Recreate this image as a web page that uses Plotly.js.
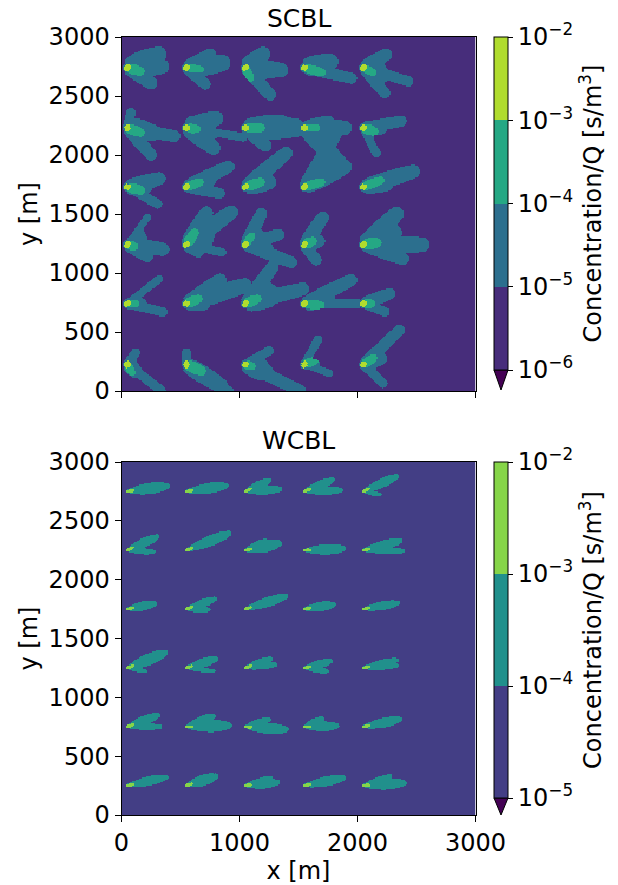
<!DOCTYPE html>
<html><head><meta charset="utf-8">
<script src="https://cdn.plot.ly/plotly-3.0.1.min.js"></script>
<style>html,body{margin:0;padding:0;background:#fff}#chart{width:618px;height:885px}</style>
</head><body><div id="chart"></div>
<script>
// ---------------- data ----------------
const sourceX = [50, 550, 1050, 1550, 2050];
const scblSourceY = [2740, 2230, 1730, 1240, 740, 225];
const wcblSourceY = [2750, 2250, 1750, 1250, 750, 250];
const xTicks = [0, 1000, 2000, 3000];
const yTicks = [0, 500, 1000, 1500, 2000, 2500, 3000];
const scblLevels = [-6, -5, -4, -3, -2];   // log10 of Concentration/Q
const wcblLevels = [-5, -4, -3, -2];
const scblLevelLabels = ['10<sup>−6</sup>', '10<sup>−5</sup>', '10<sup>−4</sup>', '10<sup>−3</sup>', '10<sup>−2</sup>'];
const wcblLevelLabels = ['10<sup>−5</sup>', '10<sup>−4</sup>', '10<sup>−3</sup>', '10<sup>−2</sup>'];
const scblColors = ['#472d7b', '#2c6f8e', '#25a884', '#b0dc2e'];
const wcblColors = ['#433e85', '#21908c', '#86d549'];
const underColor = '#440154';

// SCBL plume extents (>=1e-5) per source, row by row from top: lobes [dx, dy, halfWidth] in m
const scblOuter = [
  [[260,110,90],[290,10,80],[200,-130,60]],
  [[300,40,90],[200,110,60],[160,-140,50]],
  [[150,115,75],[300,-20,75],[210,-230,55]],
  [[220,50,85],[400,-90,50]],
  [[190,110,60],[380,-115,45],[180,-215,50]],
  [[30,130,40],[200,-40,95],[400,-70,55],[200,-230,55]],
  [[170,10,100],[250,80,80],[480,-80,35],[230,-170,70]],
  [[430,0,100],[300,50,80],[170,-150,60]],
  [[340,0,75],[320,-320,75],[200,50,60]],
  [[320,57,50],[110,-215,35],[150,0,65]],
  [[270,70,65],[255,-145,40],[150,0,75]],
  [[355,170,60],[280,-55,50],[200,60,65]],
  [[345,285,65],[200,40,75]],
  [[340,170,75],[255,425,60]],
  [[420,130,70],[200,20,65]],
  [[170,230,28],[300,-40,65],[170,-100,55]],
  [[380,275,70],[170,270,65],[300,-65,35],[100,-60,55]],
  [[135,260,55],[390,-150,55],[280,85,55]],
  [[155,230,60],[100,-130,50],[120,30,65]],
  [[280,260,75],[500,0,75],[335,-120,60],[250,100,100]],
  [[270,210,32],[300,-70,40],[120,0,50]],
  [[495,155,75],[285,200,65],[150,0,65]],
  [[230,310,60],[485,125,65],[200,30,75]],
  [[395,200,60],[450,0,40],[200,40,70]],
  [[225,85,55],[185,-70,40]],
  [[70,100,40],[285,-220,40],[70,-70,55]],
  [[0,100,40],[285,-175,75],[360,-220,35]],
  [[200,115,40],[460,-220,55],[120,-80,65]],
  [[115,210,35],[210,-75,30],[90,0,45]],
  [[305,290,50],[165,-160,40],[150,50,60]]
];
// SCBL core (>=1e-4) per source: [dx, dy, halfWidth]
const scblCore = [
  [110,-30,45],[120,-15,35],[40,-90,40],[150,-40,40],[80,-40,35],
  [110,-40,45],[90,-10,40],[130,0,45],[100,0,35],[90,-30,45],
  [115,-30,45],[115,40,40],[130,40,45],[145,40,40],[145,55,40],
  [60,-15,40],[70,100,45],[55,75,35],[70,30,45],[115,15,50],
  [70,0,35],[100,40,45],[100,40,45],[140,-15,40],[70,0,40],
  [40,-70,35],[125,-55,50],[55,-15,40],[85,30,40],[85,55,40]
];
// WCBL plume extents (>=1e-4) per source: lobes [dx, dy, halfWidth] in m
const wcblOuter = [
  [[334,45,48]],
  [[331,48,45]],
  [[198,91,38],[291,20,38]],
  [[235,96,38],[306,11,35]],
  [[277,125,40],[142,-28,20]],
  [[249,113,40],[221,-14,26]],
  [[359,142,46]],
  [[283,57,52],[170,79,32]],
  [[328,14,45]],
  [[311,79,40],[334,-6,28]],
  [[226,45,40]],
  [[238,85,35],[190,-6,26]],
  [[340,108,42]],
  [[243,37,42]],
  [[289,51,38]],
  [[317,127,50],[156,-28,20]],
  [[246,76,40],[232,-28,20]],
  [[212,76,35],[255,28,28]],
  [[221,57,35],[192,-28,26]],
  [[277,65,35],[283,20,28]],
  [[255,96,40],[277,0,28]],
  [[359,11,52],[226,91,40]],
  [[340,-23,48],[198,62,32]],
  [[272,6,42],[150,68,33]],
  [[306,62,42]],
  [[325,71,40]],
  [[246,79,48]],
  [[269,28,42],[212,65,28]],
  [[328,65,42]],
  [[340,23,48],[226,79,30]]
];

// ---------------- field construction ----------------
const STEP = 10;
const cells = [];
for (let v = STEP / 2; v < 3000; v += STEP) cells.push(v);

function inLobe(px, py, sx, sy, dx, dy, w, r0, k, p, tipFrac) {
  const L2 = dx * dx + dy * dy;
  let t = L2 > 0 ? ((px - sx) * dx + (py - sy) * dy) / L2 : 0;
  const tc = t < 0 ? 0 : (t > 1 ? 1 : t);
  const cx = sx + tc * dx, cy = sy + tc * dy;
  const d = Math.hypot(px - cx, py - cy);
  const f = Math.pow(Math.max(0, Math.sin(Math.PI * Math.pow(tc, k) * tipFrac)), p);
  return d <= r0 + (w - r0) * f;
}

function inTri(px, py, ax, ay, bx, by, cx, cy) {
  const d1 = (px - bx) * (ay - by) - (ax - bx) * (py - by);
  const d2 = (px - cx) * (by - cy) - (bx - cx) * (py - cy);
  const d3 = (px - ax) * (cy - ay) - (cx - ax) * (py - ay);
  const neg = d1 < 0 || d2 < 0 || d3 < 0, pos = d1 > 0 || d2 > 0 || d3 > 0;
  return !(neg && pos);
}

// fans between angularly adjacent lobes (fill the body of each plume)
function fansOf(lobes, frac, maxGap) {
  const s = lobes.map(L => ({L, a: Math.atan2(L[1], L[0])})).sort((u, v) => u.a - v.a);
  const out = [];
  for (let i = 0; i + 1 < s.length; i++) {
    if (s[i + 1].a - s[i].a < maxGap) out.push([s[i].L[0] * frac, s[i].L[1] * frac, s[i + 1].L[0] * frac, s[i + 1].L[1] * frac]);
  }
  return out;
}

function buildField(srcY, outer, core, levels, opt) {
  const fans = outer.map(l => fansOf(l, opt.fanFrac, opt.fanGap));
  const z = [];
  for (let j = 0; j < cells.length; j++) {
    const py = cells[j];
    const row = [];
    for (let i = 0; i < cells.length; i++) {
      const px = cells[i];
      let cls = 0;
      for (let r = 0; r < srcY.length; r++) {
        const sy = srcY[r];
        if (Math.abs(py - sy) > 650) continue;
        for (let c = 0; c < sourceX.length; c++) {
          const sx = sourceX[c];
          if (px < sx - 120 || px > sx + 650) continue;
          const n = r * sourceX.length + c;
          let hit = 0;
          for (const L of outer[n]) {
            if (inLobe(px, py, sx, sy, L[0], L[1], L[2], opt.r0, opt.k, opt.p, opt.tip)) { hit = 1; break; }
          }
          if (!hit) {
            for (const F of fans[n]) {
              if (inTri(px, py, sx, sy, sx + F[0], sy + F[1], sx + F[2], sy + F[3])) { hit = 1; break; }
            }
          }
          if (hit && core) {
            const C = core[n];
            if (inLobe(px, py, sx, sy, C[0], C[1], C[2], 16, 0.7, 0.4, 0.85)) hit = 2;
          }
          if (hit) {
            const M = outer[n][0];
            const len = Math.hypot(M[0], M[1]);
            const pl = opt.peakLen;
            if (inLobe(px, py, sx - opt.peakBack * M[0] / len, sy - opt.peakBack * M[1] / len,
                       pl * M[0] / len, pl * M[1] / len, opt.peakW, opt.peakR0, 1, 0.5, 1)) hit = opt.peakClass;
          }
          if (hit > cls) cls = hit;
        }
      }
      row.push(levels[0] + 0.5 + cls);
    }
    z.push(row);
  }
  return z;
}

const zScbl = buildField(scblSourceY, scblOuter, scblCore, scblLevels,
  {r0: 40, k: 0.7, p: 0.4, tip: 0.9, fanFrac: 0.7, fanGap: 2.1,
   peakLen: 20, peakBack: 10, peakW: 28, peakR0: 22, peakClass: 3});
const zWcbl = buildField(wcblSourceY, wcblOuter, null, wcblLevels,
  {r0: 10, k: 1.2, p: 0.6, tip: 0.92, fanFrac: 0.5, fanGap: 1.2,
   peakLen: 60, peakBack: 5, peakW: 14, peakR0: 8, peakClass: 2});

function discreteScale(colors) {
  const n = colors.length, s = [];
  colors.forEach((c, i) => { s.push([i / n, c]); s.push([(i + 1) / n, c]); });
  return s;
}

// ---------------- layout geometry ----------------
const W = 618, H = 885;
const plotL = 121.5, plotR = 475.5;
const topT = 37, topB = 391, botT = 462, botB = 815;
const cbL = 494, cbThick = 14;
const topCbEnd = 370, botCbEnd = 798;
const FONT = 'DejaVu Sans';
const FS = 24;

function cb(levels, labels, top, end) {
  return {
    x: cbL / W, xanchor: 'left', xpad: 0, ypad: 0,
    y: 1 - top / H, yanchor: 'top', len: (end - top) / H, lenmode: 'fraction',
    thickness: cbThick, outlinewidth: 1, outlinecolor: '#000',
    tickmode: 'array', tickvals: levels, ticktext: labels,
    ticks: 'outside', ticklen: 5, tickwidth: 1, tickcolor: '#000',
    tickfont: {family: FONT, size: FS, color: '#000'},
    title: {text: 'Concentration/Q [s/m<sup>3</sup>]', side: 'right', font: {family: FONT, size: FS, color: '#000'}}
  };
}

const traces = [
  {type: 'heatmap', x: cells, y: cells, z: zScbl, xaxis: 'x', yaxis: 'y',
   zmin: scblLevels[0], zmax: scblLevels[scblLevels.length - 1], zsmooth: false,
   colorscale: discreteScale(scblColors), hoverinfo: 'skip',
   colorbar: cb(scblLevels, scblLevelLabels, topT, topCbEnd)},
  {type: 'heatmap', x: cells, y: cells, z: zWcbl, xaxis: 'x2', yaxis: 'y2',
   zmin: wcblLevels[0], zmax: wcblLevels[wcblLevels.length - 1], zsmooth: false,
   colorscale: discreteScale(wcblColors), hoverinfo: 'skip',
   colorbar: cb(wcblLevels, wcblLevelLabels, botT, botCbEnd)}
];

function axisBase() {
  return {showline: true, mirror: true, linecolor: '#000', linewidth: 1,
    ticks: 'outside', ticklen: 6, tickwidth: 1, tickcolor: '#000',
    tickfont: {family: FONT, size: FS, color: '#000'}, showgrid: false, zeroline: false,
    fixedrange: true, automargin: false};
}

function tri(end, tip) {
  const x0 = cbL / W, x1 = (cbL + cbThick) / W, xm = (cbL + cbThick / 2) / W;
  return {type: 'path', xref: 'paper', yref: 'paper',
    path: `M ${x0} ${1 - end / H} L ${x1} ${1 - end / H} L ${xm} ${1 - tip / H} Z`,
    fillcolor: underColor, line: {color: '#000', width: 1}};
}

const layout = {
  width: W, height: H, margin: {l: 0, r: 0, t: 0, b: 0},
  paper_bgcolor: '#fff', plot_bgcolor: '#fff', showlegend: false,
  font: {family: FONT, size: FS, color: '#000'},
  xaxis: Object.assign(axisBase(), {domain: [plotL / W, plotR / W], range: [0, 3000],
    tickmode: 'array', tickvals: xTicks, showticklabels: false, anchor: 'y'}),
  yaxis: Object.assign(axisBase(), {domain: [1 - topB / H, 1 - topT / H], range: [0, 3000],
    tickmode: 'array', tickvals: yTicks, anchor: 'x',
    title: {text: 'y [m]', font: {family: FONT, size: FS, color: '#000'}, standoff: 4}}),
  xaxis2: Object.assign(axisBase(), {domain: [plotL / W, plotR / W], range: [0, 3000],
    tickmode: 'array', tickvals: xTicks, anchor: 'y2',
    title: {text: 'x [m]', font: {family: FONT, size: FS, color: '#000'}, standoff: 2}}),
  yaxis2: Object.assign(axisBase(), {domain: [1 - botB / H, 1 - botT / H], range: [0, 3000],
    tickmode: 'array', tickvals: yTicks, anchor: 'x2',
    title: {text: 'y [m]', font: {family: FONT, size: FS, color: '#000'}, standoff: 4}}),
  annotations: [
    {text: 'SCBL', xref: 'paper', yref: 'paper', x: (plotL + plotR) / 2 / W, y: 1 - 18 / H,
     xanchor: 'center', yanchor: 'middle', showarrow: false, font: {family: FONT, size: 25, color: '#000'}},
    {text: 'WCBL', xref: 'paper', yref: 'paper', x: (plotL + plotR) / 2 / W, y: 1 - 440 / H,
     xanchor: 'center', yanchor: 'middle', showarrow: false, font: {family: FONT, size: 25, color: '#000'}}
  ],
  shapes: [tri(topCbEnd, 390), tri(botCbEnd, 815)]
};

Plotly.newPlot('chart', traces, layout, {displayModeBar: false, staticPlot: true});
</script>
</body></html>
